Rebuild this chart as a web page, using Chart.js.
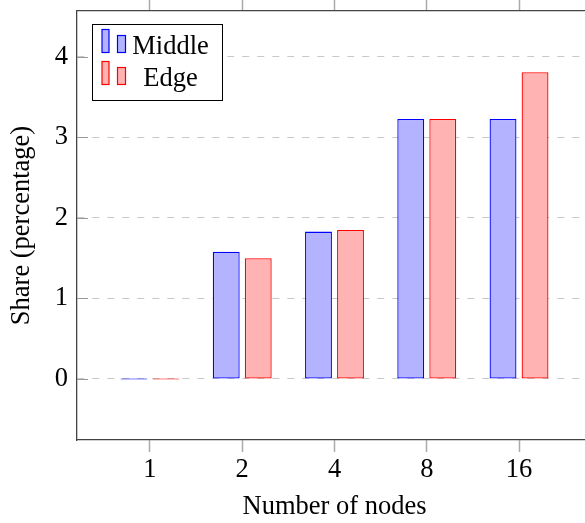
<!DOCTYPE html>
<html lang="en">
<head>
    <meta charset="utf-8">
    <title>Share per number of nodes</title>
    <script src="https://cdn.jsdelivr.net/npm/chart.js"></script>
    <style>
        html, body { margin: 0; padding: 0; background: #fff; overflow: hidden; }
        #wrap { width: 600px; height: 523px; }
    </style>
</head>
<body>
    <div id="wrap"><canvas id="grafico"></canvas></div>

    <script>
        // dados
        let nodes = ['1', '2', '4', '8', '16'];
        let middle = [0, 1.58, 1.83, 3.23, 3.23];
        let edge = [0, 1.50, 1.85, 3.23, 3.81];
        let yTicks = [0, 1, 2, 3, 4];

        let fonte = 'Liberation Serif, Times New Roman, serif';
        let tamanho = 26.5;
        let xMin = -0.791, xMax = 4.791;

        function pontos(valores) {
            return valores.map((v, i) => ({ x: i, y: v }));
        }

        function ticksX(scale) {
            scale.ticks = nodes.map((_, i) => ({ value: i }));
        }

        // legenda desenhada dentro da área do gráfico (estilo pgfplots)
        let legendaPlugin = {
            id: 'legenda',
            afterDraw(chart) {
                let ctx = chart.ctx;
                let area = chart.chartArea;
                ctx.save();

                // marcas do eixo y para dentro
                let y = chart.scales.y;
                ctx.strokeStyle = '#999';
                ctx.lineWidth = 1;
                yTicks.forEach(v => {
                    let py = Math.round(y.getPixelForValue(v)) + 0.5;
                    ctx.beginPath();
                    ctx.moveTo(area.left, py);
                    ctx.lineTo(area.left + 11, py);
                    ctx.stroke();
                });

                let bx = area.left + 15.5, by = area.top + 13.5;
                ctx.fillStyle = '#fff';
                ctx.fillRect(bx, by, 130, 76);
                ctx.strokeStyle = '#000';
                ctx.strokeRect(bx, by, 130, 76);

                ctx.font = tamanho + 'px ' + fonte;
                ctx.textAlign = 'center';
                ctx.textBaseline = 'alphabetic';
                ctx.lineWidth = 1.2;
                chart.data.datasets.forEach((ds, i) => {
                    let base = by + 28 + i * 32;
                    ctx.fillStyle = ds.backgroundColor;
                    ctx.strokeStyle = ds.borderColor;
                    ctx.fillRect(bx + 9.5, base - 23, 7, 23);
                    ctx.strokeRect(bx + 9.5, base - 23, 7, 23);
                    ctx.fillRect(bx + 25, base - 17, 8, 17);
                    ctx.strokeRect(bx + 25, base - 17, 8, 17);
                    ctx.fillStyle = '#000';
                    ctx.fillText(ds.label, bx + 78, base + 1);
                });
                ctx.restore();
            }
        };

        new Chart(document.getElementById('grafico'), {
            type: 'bar',
            data: {
                datasets: [{
                    label: 'Middle',
                    data: pontos(middle),
                    backgroundColor: '#b3b3ff',
                    borderColor: '#0000ff',
                    borderWidth: 1.3,
                    borderSkipped: false,
                    minBarLength: 1,
                    categoryPercentage: 0.694,
                    barPercentage: 0.84
                }, {
                    label: 'Edge',
                    data: pontos(edge),
                    backgroundColor: '#ffb3b3',
                    borderColor: '#ff0000',
                    borderWidth: 1.3,
                    borderSkipped: false,
                    minBarLength: 1,
                    categoryPercentage: 0.694,
                    barPercentage: 0.84
                }]
            },
            options: {
                responsive: true,
                maintainAspectRatio: false,
                animation: false,
                layout: { padding: { left: 0, top: 0, right: 8, bottom: 0 } },
                plugins: {
                    legend: { display: false },
                    tooltip: { enabled: false }
                },
                scales: {
                    x: {
                        type: 'linear',
                        position: 'bottom',
                        min: xMin,
                        max: xMax,
                        offset: false,
                        afterBuildTicks: ticksX,
                        afterFit: s => { s.height = 83; s.paddingLeft = 0; s.paddingRight = 0; },
                        ticks: {
                            padding: 2,
                            color: '#000',
                            font: { family: fonte, size: tamanho },
                            maxRotation: 0,
                            callback: v => nodes[v]
                        },
                        grid: {
                            offset: false,
                            drawOnChartArea: false,
                            tickLength: 12,
                            tickColor: '#aaa',
                            tickWidth: 1.5
                        },
                        border: { color: '#444', width: 1.3 },
                        title: {
                            display: true,
                            text: 'Number of nodes',
                            color: '#000',
                            font: { family: fonte, size: tamanho },
                            padding: { top: 0, bottom: 0 }
                        }
                    },
                    x2: {
                        type: 'linear',
                        axis: 'x',
                        position: 'top',
                        min: xMin,
                        max: xMax,
                        offset: false,
                        afterBuildTicks: ticksX,
                        afterFit: s => { s.height = 11; s.paddingLeft = 0; s.paddingRight = 0; },
                        ticks: { display: false },
                        grid: {
                            offset: false,
                            drawOnChartArea: false,
                            tickLength: 11,
                            tickColor: '#aaa',
                            tickWidth: 1.5
                        },
                        border: { color: '#444', width: 1.3 }
                    },
                    y: {
                        min: -0.758,
                        max: 4.57,
                        afterBuildTicks: s => { s.ticks = yTicks.map(v => ({ value: v })); },
                        afterFit: s => { s.width = 77; s.paddingTop = 0; s.paddingBottom = 0; },
                        ticks: {
                            padding: 9,
                            color: '#000',
                            font: { family: fonte, size: tamanho }
                        },
                        grid: {
                            drawTicks: false,
                            color: '#c8c8c8',
                            lineWidth: 1
                        },
                        border: { color: '#444', width: 1.3, dash: [7, 8] },
                        title: {
                            display: true,
                            text: 'Share (percentage)',
                            color: '#000',
                            font: { family: fonte, size: tamanho },
                            padding: { top: 6, bottom: 0 }
                        }
                    }
                }
            },
            plugins: [legendaPlugin]
        });
    </script>
</body>
</html>
